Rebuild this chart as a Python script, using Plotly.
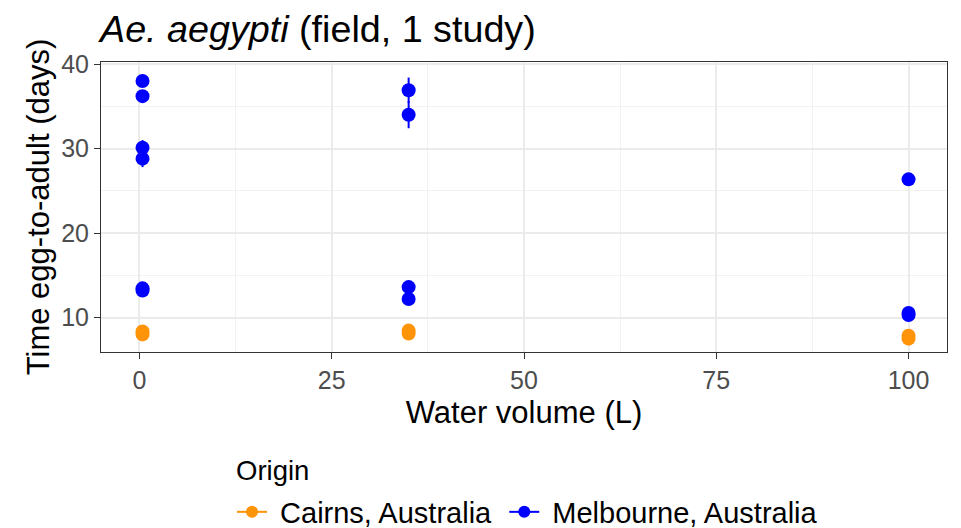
import plotly.graph_objects as go

# ---- data ----
cairns_x = [0.4, 0.4, 35, 35, 100, 100]
cairns_y = [8.0, 8.35, 8.1, 8.45, 7.5, 7.85]
cairns_err = [0, 0, 0, 0, 0, 0]

melb_x = [0.4, 0.4, 0.4, 0.4, 0.4, 0.4, 35, 35, 35, 35, 100, 100, 100]
melb_y = [38.0, 36.2, 30.1, 28.8, 13.2, 13.45, 36.9, 34.0, 13.6, 12.2, 26.35, 10.3, 10.55]
melb_err = [0.3, 0.3, 0.9, 1.0, 0.3, 0.3, 1.5, 1.6, 0.3, 0.3, 0.3, 0.3, 0.3]

x_ticks = [0, 25, 50, 75, 100]
y_ticks = [10, 20, 30, 40]

ORANGE = "#FF9408"
BLUE = "#0000FF"
FONT = "Liberation Sans, Arial, sans-serif"

fig = go.Figure()

for name, xs, ys, es, col, label in [
    ("Cairns, Australia", cairns_x, cairns_y, cairns_err, ORANGE, " Cairns, Australia "),
    ("Melbourne, Australia", melb_x, melb_y, melb_err, BLUE, " Melbourne, Australia"),
]:
    fig.add_trace(go.Scatter(
        x=xs, y=ys, mode="markers", name=name, legendgroup=name, showlegend=False,
        marker=dict(color=col, size=14, line=dict(width=0)),
        error_y=dict(type="data", array=es, visible=True, width=0, thickness=2, color=col),
    ))
    # legend glyph (line + point, like ggplot pointrange)
    fig.add_trace(go.Scatter(
        x=[None], y=[None], mode="lines+markers", name=label, legendgroup=name,
        marker=dict(color=col, size=12), line=dict(color=col, width=2),
    ))

grid_major = "#EBEBEB"
axis_common = dict(
    showline=True, mirror=True, linecolor="#333333", linewidth=1,
    ticks="outside", ticklen=6, tickwidth=1, tickcolor="#333333",
    tickfont=dict(size=25, color="#4D4D4D", family=FONT),
    showgrid=True, gridcolor=grid_major, gridwidth=1.5,
    zeroline=False,
)

fig.update_layout(
    width=961, height=528,
    paper_bgcolor="white", plot_bgcolor="white",
    margin=dict(l=101, r=14, t=62, b=176, autoexpand=False),
    font=dict(family=FONT, color="black"),
    title=dict(
        text="<i>Ae. aegypti</i> (field, 1 study)",
        font=dict(size=37.7, color="black", family=FONT),
        xref="container", x=100/961, xanchor="left",
        yref="container", y=1 - 29/528, yanchor="middle",
    ),
    xaxis=dict(
        **axis_common,
        range=[-5, 105], tickvals=x_ticks, ticktext=[str(v) for v in x_ticks],
        minor=dict(showgrid=True, gridcolor="#F2F2F2", gridwidth=1, tickvals=[12.5, 37.5, 62.5, 87.5], ticks=""),
        title=dict(text="Water volume (L)", font=dict(size=31, color="black", family=FONT), standoff=8),
    ),
    yaxis=dict(
        **axis_common,
        range=[5.92, 40.24], tickvals=y_ticks, ticktext=[str(v) for v in y_ticks],
        minor=dict(showgrid=True, gridcolor="#F2F2F2", gridwidth=1, tickvals=[15, 25, 35], ticks=""),
        title=dict(text="Time egg-to-adult (days)", font=dict(size=31, color="black", family=FONT), standoff=2),
    ),
    legend=dict(
        orientation="h", x=(232 - 101) / 846, xanchor="left", y=(352 - 512) / 290, yanchor="middle",
        font=dict(size=29, color="black", family=FONT),
        itemwidth=30, tracegroupgap=0, bgcolor="rgba(0,0,0,0)",
    ),
    annotations=[dict(
        text="Origin", showarrow=False, xref="paper", yref="paper",
        x=(234 - 101) / 846, xanchor="left", y=(352 - 470) / 290, yanchor="middle",
        font=dict(size=27.5, color="black", family=FONT),
    )],
)

fig.write_html("out.html")
